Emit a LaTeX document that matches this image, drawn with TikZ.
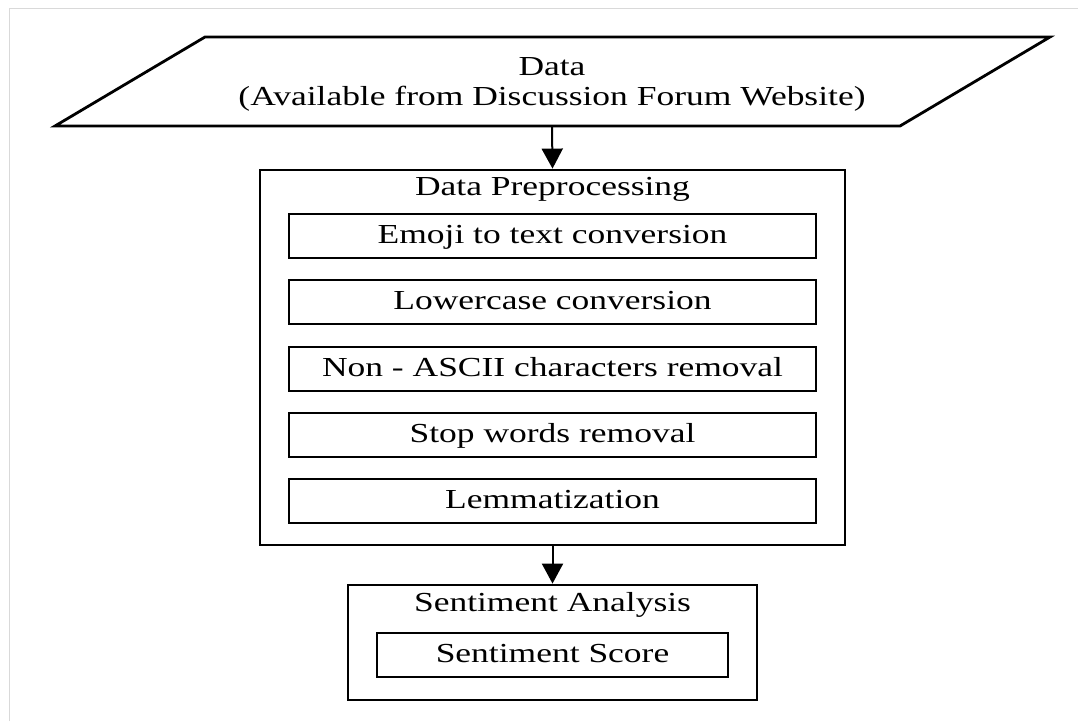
\documentclass[tikz,border=0pt]{standalone}
\usepackage{fontspec}
\usepackage{graphicx}
\setmainfont{Liberation Serif}
\usetikzlibrary{arrows.meta}
\newcommand\sx[1]{\scalebox{1.29}[1]{#1}}
\tikzset{
  txt/.style={font=\fontsize{27.5}{30}\selectfont, inner sep=0pt, align=center},
  box/.style={draw, line width=2.8pt, inner sep=0pt, text height=17pt, text depth=2pt, font=\fontsize{27.5}{30}\selectfont},
  arr/.style={line width=2pt, -{Triangle[width=21pt,length=20pt]}},
}
\begin{document}
\begin{tikzpicture}[x=1pt,y=-1pt]
\useasboundingbox (0,0) rectangle (1078,721);
% page frame
\draw[line width=1pt, color=black!15] (9,721) -- (9,8) -- (1078,8);
% input parallelogram
\draw[line width=2.8pt, line join=miter] (205,37) -- (1050,37) -- (900,126) -- (55,126) -- cycle;
\node[txt] (data) at (552,84) {\sx{Data}\\\sx{(Available from Discussion Forum Website)}};
\coordinate (databot) at (552,126);
% preprocessing
\node[box, minimum width=585pt, minimum height=375pt] (pre) at (552.5,357.5) {};
\node[txt] (pretitle) at (552.5,189) {\sx{Data Preprocessing}};
\node[box, minimum width=527pt, minimum height=44pt] (s1) at (552.5,236) {\sx{Emoji to text conversion}};
\node[box, minimum width=527pt, minimum height=44pt] (s2) at (552.5,302) {\sx{Lowercase conversion}};
\node[box, minimum width=527pt, minimum height=44pt] (s3) at (552.5,369) {\sx{Non - ASCII characters removal}};
\node[box, minimum width=527pt, minimum height=44pt] (s4) at (552.5,435) {\sx{Stop words removal}};
\node[box, minimum width=527pt, minimum height=44pt] (s5) at (552.5,501) {\sx{Lemmatization}};
% sentiment
\node[box, minimum width=409pt, minimum height=115pt] (sa) at (552.5,642.5) {};
\node[txt] (satitle) at (552.5,605) {\sx{Sentiment Analysis}};
\node[box, minimum width=351pt, minimum height=44pt] (score) at (552.5,655) {\sx{Sentiment Score}};
% arrows
\draw[arr] (databot) -- (pre.north);
\draw[arr] (pre.south) -- (sa.north);
\end{tikzpicture}
\end{document}
